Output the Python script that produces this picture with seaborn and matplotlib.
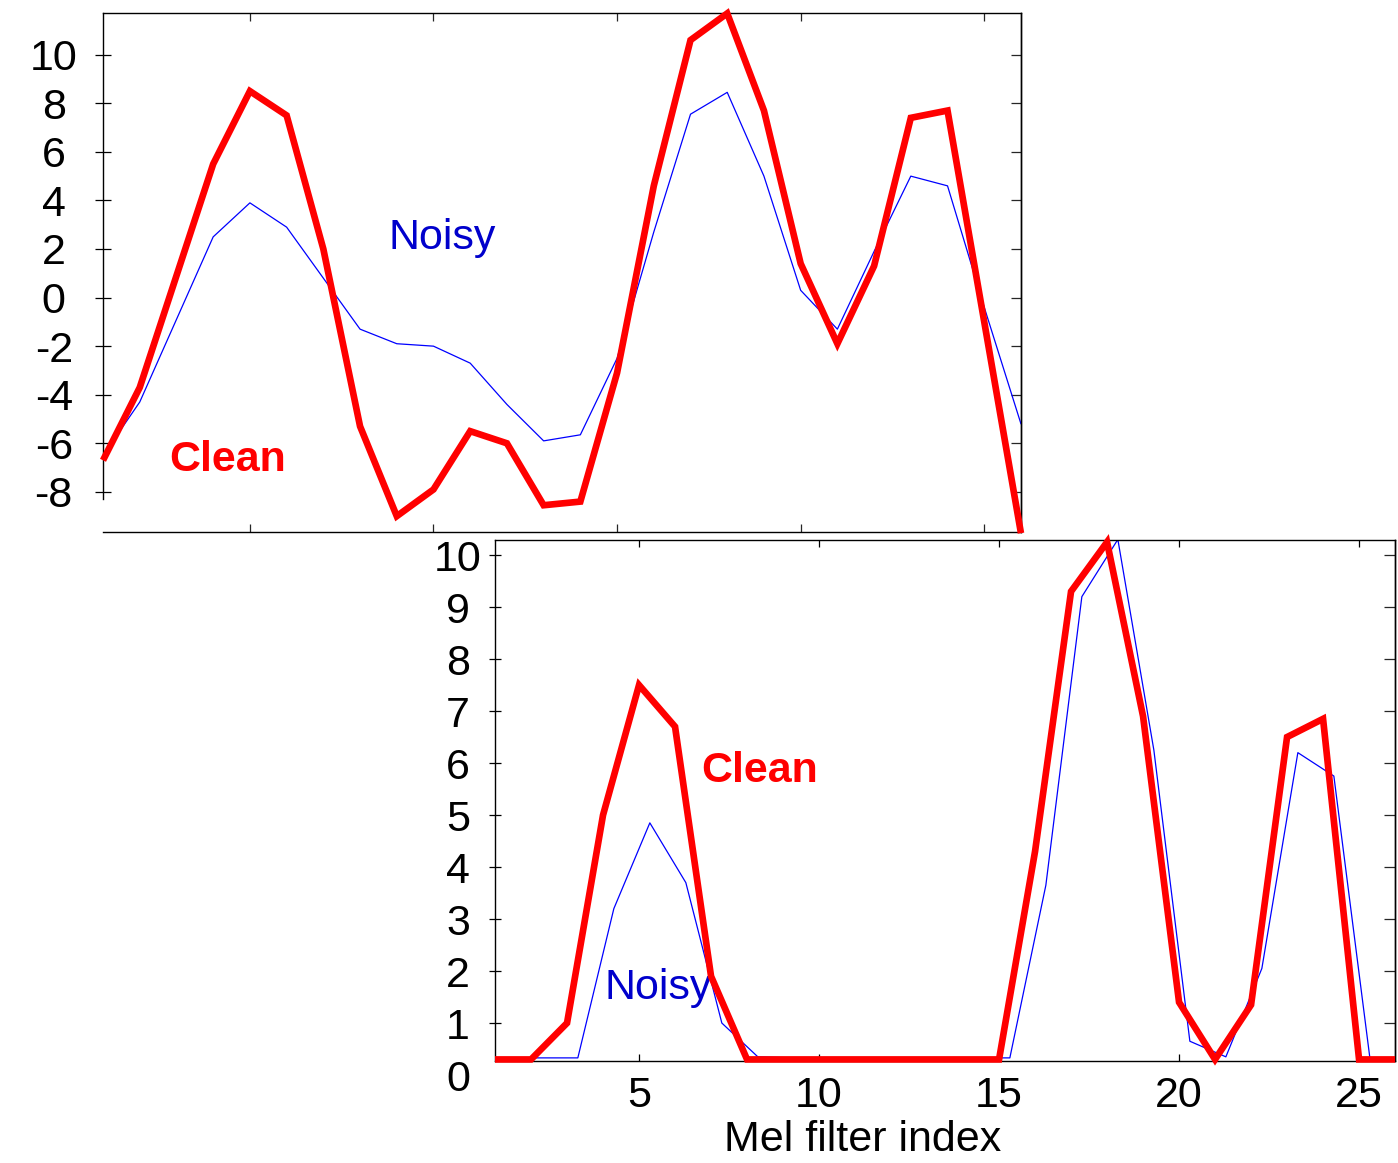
import numpy as np
import pandas as pd
import seaborn as sns
import matplotlib.pyplot as plt
import matplotlib.transforms as mtransforms

# values (mel filter index 1..26)
mel_index = list(range(1, 27))
noisy_shift = 0.3  # lower panel: noisy curve sits a bit right of the clean one

top_clean = [-6.7, -3.7, 0.9, 5.5, 8.5, 7.5, 2.0, -5.3, -9.0, -7.9, -5.5, -6.0, -8.55,
             -8.4, -3.1, 4.6, 10.6, 11.7, 7.7, 1.4, -1.9, 1.3, 7.4, 7.7, -1.0, -9.7]
top_noisy = [-6.5, -4.3, -0.9, 2.5, 3.9, 2.9, 0.8, -1.3, -1.9, -2.0, -2.7, -4.4, -5.9,
             -5.65, -2.5, 2.7, 7.55, 8.45, 5.0, 0.3, -1.3, 1.9, 5.0, 4.6, -0.4, -5.2]

bottom_clean = [0.3, 0.3, 1.0, 5.0, 7.5, 6.7, 1.9, 0.3, 0.3, 0.3, 0.3, 0.3, 0.3,
                0.3, 0.3, 4.3, 9.3, 10.25, 6.9, 1.4, 0.3, 1.35, 6.5, 6.85, 0.3, 0.3]
bottom_noisy = [0.33, 0.33, 0.33, 3.2, 4.85, 3.7, 1.0, 0.35, 0.33, 0.33, 0.33, 0.33, 0.33,
                0.33, 0.33, 3.65, 9.2, 10.3, 6.25, 0.65, 0.35, 2.05, 6.2, 5.75, 0.33, 0.33]

top_yticks = list(range(-8, 11, 2))
bottom_yticks = list(range(1, 11))
xticks = [5, 10, 15, 20, 25]

sns.set_style("white")
plt.rcParams['font.family'] = ['Liberation Sans', 'DejaVu Sans']
plt.rcParams['axes.unicode_minus'] = False

RED = '#ff0000'
BLUE = '#0000ff'
TEXT_BLUE = '#0000cc'
FS = 31

top = pd.DataFrame({"idx": mel_index, "clean": top_clean, "noisy": top_noisy})
bot = pd.DataFrame({"idx": mel_index,
                    "noisy_x": np.array(mel_index) + noisy_shift,
                    "clean": bottom_clean, "noisy": bottom_noisy})

fig = plt.figure(figsize=(13.98, 11.63), dpi=100)
ax1 = fig.add_axes([0.0737, 0.5426, 0.6566, 0.4465])
ax2 = fig.add_axes([0.3541, 0.0877, 0.6438, 0.448])

red_kw = dict(color=RED, linewidth=4.8, clip_on=False, zorder=3,
              solid_joinstyle='miter', solid_capstyle='butt')
blue_kw = dict(color=BLUE, linewidth=0.9, zorder=2)

sns.lineplot(data=top, x="idx", y="noisy", ax=ax1, **blue_kw)
sns.lineplot(data=top, x="idx", y="clean", ax=ax1, **red_kw)
sns.lineplot(data=bot, x="noisy_x", y="noisy", ax=ax2, **blue_kw)
sns.lineplot(data=bot, x="idx", y="clean", ax=ax2, **red_kw)

# ---- top panel
ax1.set_xlim(1, 26)
ax1.set_ylim(-9.65, 11.73)
ax1.set_xticks(xticks)
ax1.set_xticklabels([])
ax1.set_yticks(top_yticks)
ax1.set(xlabel='', ylabel='')
ax1.tick_params(axis='y', left=True, direction='inout', length=12, width=0.9,
                labelsize=FS, pad=29.5, colors='black')
ax1.tick_params(axis='x', bottom=True, top=True, direction='in', length=6, width=0.9)
plt.setp(ax1.get_yticklabels(), ha='center')
ax1.spines['left'].set_bounds(-8.3, 11.73)
sec1 = ax1.secondary_yaxis('right')
sec1.set_yticks(top_yticks)
sec1.tick_params(direction='in', length=7, width=0.9, labelright=False)

ax1.text(10.23, 2.45, "Noisy", color=TEXT_BLUE, fontsize=31, ha='center', va='center', zorder=2.5)
ax1.text(4.38, -6.69, "Clean", color=RED, fontsize=31, fontweight='bold',
         ha='center', va='center', zorder=2.5)

# ---- bottom panel
ax2.set_xlim(1, 26)
ax2.set_ylim(0.27, 10.29)
ax2.set_xticks(xticks)
ax2.set_yticks(bottom_yticks)
ax2.set(ylabel='')
ax2.tick_params(axis='y', left=True, direction='inout', length=8, width=0.9,
                labelsize=FS, pad=22.6, colors='black')
ax2.tick_params(axis='x', bottom=True, top=True, direction='in', length=5, width=0.9,
                labelsize=FS, pad=11, colors='black')
plt.setp(ax2.get_yticklabels(), ha='center')
sec2 = ax2.secondary_yaxis('right')
sec2.set_yticks(bottom_yticks)
sec2.tick_params(direction='in', length=8, width=0.9, labelright=False)

# the "0" label sits under the axis floor
ax2.text(-0.0411, 0, "0", fontsize=FS, color='black', ha='center', va='center_baseline',
         clip_on=False,
         transform=mtransforms.blended_transform_factory(ax2.transAxes, ax2.transData))

ax2.set_xlabel("Mel filter index", fontsize=31, color='black')
ax2.xaxis.set_label_coords(0.408, -0.113)

ax2.text(8.36, 5.85, "Clean", color=RED, fontsize=31, fontweight='bold',
         ha='center', va='center', zorder=2.5)
ax2.text(5.53, 1.67, "Noisy", color=TEXT_BLUE, fontsize=31, ha='center', va='center', zorder=2.5)

for ax in (ax1, ax2, sec1, sec2):
    for sp in ax.spines.values():
        sp.set_color('black')
        sp.set_linewidth(1.0)

fig.savefig("out.png", dpi=100)
